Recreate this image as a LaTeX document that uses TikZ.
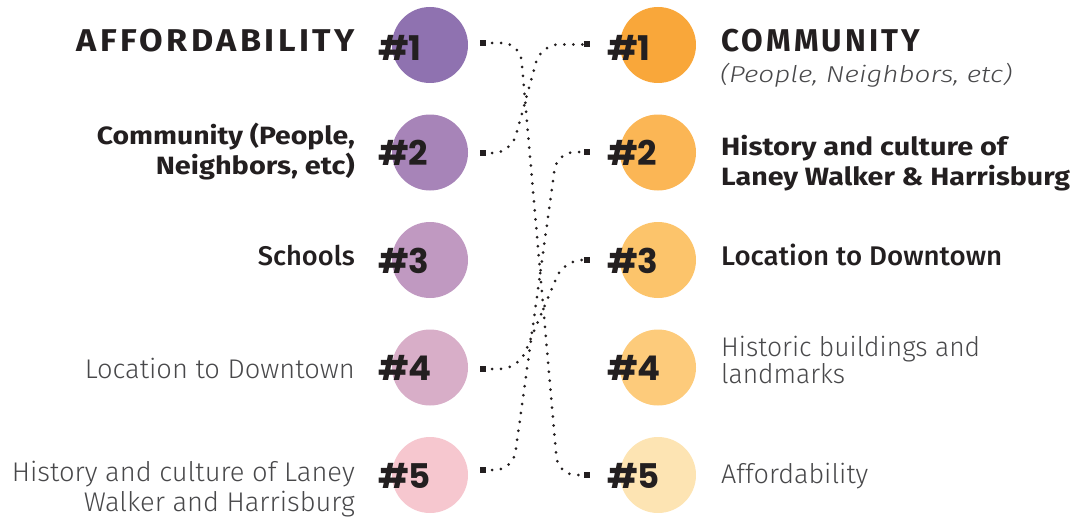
\documentclass[tikz,border=0pt]{standalone}
\usepackage{fontspec}
\setmainfont{Fira Sans}
\newfontfamily\lightf{Fira Sans Light}[ItalicFont=Fira Sans Light Italic]
\newfontfamily\medf{Fira Sans Medium}
\newfontfamily\boldf{Fira Sans Bold}
\newfontfamily\capsf{Fira Sans Bold}[LetterSpace=10]
\newfontfamily\numf{Poppins Bold}
\newcommand\fitw[2]{\resizebox{#1}{\height}{#2}}
\definecolor{ink}{HTML}{231F20}
\definecolor{greytxt}{HTML}{48484A}
\definecolor{lA}{HTML}{8F72B0}
\definecolor{lB}{HTML}{A784B8}
\definecolor{lC}{HTML}{C099C1}
\definecolor{lD}{HTML}{D8AEC8}
\definecolor{lE}{HTML}{F6C7CF}
\definecolor{rA}{HTML}{F9A73A}
\definecolor{rB}{HTML}{FBB655}
\definecolor{rC}{HTML}{FCC46B}
\definecolor{rD}{HTML}{FDCB7B}
\definecolor{rE}{HTML}{FDE4B3}
\tikzset{
  disc/.style={circle, minimum size=76pt, inner sep=0pt, draw=none},
  numlbl/.style={inner sep=0pt, anchor=base west, text=ink, font=\numf\fontsize{34}{34}\selectfont},
  endsq/.style={rectangle, fill=ink, minimum size=6pt, inner sep=0pt},
  dotline/.style={draw=ink, line width=3pt, line cap=round, dash pattern=on 0pt off 9pt, rounded corners=18pt},
  ltxt/.style={inner sep=0pt, anchor=base east, align=right},
  rtxt/.style={inner sep=0pt, anchor=base west, align=left},
  headf/.style={text=ink, font=\capsf\fontsize{31.5}{31.5}\selectfont},
  boldtxt/.style={text=ink, font=\boldf\fontsize{25}{30}\selectfont},
  medtxt/.style={text=ink, font=\medf\fontsize{27}{30}\selectfont},
  lighttxt/.style={text=greytxt, font=\lightf\fontsize{27}{30}\selectfont}
}
\begin{document}
\begin{tikzpicture}[x=1pt, y=-1pt]
\useasboundingbox (0,0) rectangle (1074,519);
% discs
\node[disc, fill=lA] (dl1) at (430,45) {};
\node[disc, fill=lB] (dl2) at (430,152.5) {};
\node[disc, fill=lC] (dl3) at (430,260) {};
\node[disc, fill=lD] (dl4) at (430,367.5) {};
\node[disc, fill=lE] (dl5) at (430,475) {};
\node[disc, fill=rA] (dr1) at (658,45) {};
\node[disc, fill=rB] (dr2) at (658,152.5) {};
\node[disc, fill=rC] (dr3) at (658,260) {};
\node[disc, fill=rD] (dr4) at (658,367.5) {};
\node[disc, fill=rE] (dr5) at (658,475) {};
% numbers
\node[numlbl] (nl1) at (378,61) {\#1};
\node[numlbl] (nl2) at (378,165) {\#2};
\node[numlbl] (nl3) at (378,273) {\#3};
\node[numlbl] (nl4) at (378,380) {\#4};
\node[numlbl] (nl5) at (378,488) {\#5};
\node[numlbl] (nr1) at (607,61) {\#1};
\node[numlbl] (nr2) at (607,165) {\#2};
\node[numlbl] (nr3) at (607,273) {\#3};
\node[numlbl] (nr4) at (607,380) {\#4};
\node[numlbl] (nr5) at (607,488) {\#5};
% bends
\coordinate (k1a) at (520,43);
\coordinate (k1b) at (558,475);
\coordinate (k2a) at (511,153);
\coordinate (k2b) at (541,44.5);
\coordinate (k4a) at (518,369);
\coordinate (k4b) at (564,260);
\coordinate (k5a) at (513,470);
\coordinate (k5b) at (557,152);
% connectors
\node[endsq] (sl1) at (483,43) {};
\node[endsq] (sl2) at (483,153) {};
\node[endsq] (sl4) at (483,369) {};
\node[endsq] (sl5) at (483,470) {};
\node[endsq] (sr1) at (587,44.5) {};
\node[endsq] (sr2) at (587,152) {};
\node[endsq] (sr3) at (587,260) {};
\node[endsq] (sr5) at (587,475) {};
\draw[dotline] (sl1.center) -- (k1a) -- (k1b) -- (sr5.center);
\draw[dotline] (sl2.center) -- (k2a) -- (k2b) -- (sr1.center);
\draw[dotline] (sl4.center) -- (k4a) -- (k4b) -- (sr3.center);
\draw[dotline] (sl5.center) -- (k5a) -- (k5b) -- (sr2.center);
% left texts
\node[ltxt, headf] (tl1) at (355,52) {\fitw{278pt}{AFFORDABILITY}};
\node[ltxt, boldtxt] (tl2) at (355,174) {\fitw{258pt}{Community (People,}\\\fitw{199pt}{Neighbors, etc)}};
\node[ltxt, medtxt] (tl3) at (355,265) {\fitw{97pt}{Schools}};
\node[ltxt, lighttxt] (tl4) at (355,378) {\fitw{270pt}{Location to Downtown}};
\node[ltxt, lighttxt] (tl5) at (355,511) {\fitw{343pt}{History and culture of Laney}\\\fitw{271pt}{Walker and Harrisburg}};
% right texts
\node[rtxt, headf] (tr1) at (721,52) {\fitw{199pt}{COMMUNITY}};
\node[rtxt, lighttxt, font=\lightf\itshape\fontsize{23}{26}\selectfont] (tr1b) at (720,83) {\fitw{292pt}{(People, Neighbors, etc)}};
\node[rtxt, boldtxt] (tr2) at (721,185) {\fitw{286pt}{History and culture of}\\\fitw{349pt}{Laney Walker \& Harrisburg}};
\node[rtxt, medtxt] (tr3) at (721,265) {\fitw{281pt}{Location to Downtown}};
\node[rtxt, lighttxt, font=\lightf\fontsize{27}{27}\selectfont] (tr4) at (721,383) {\fitw{259pt}{Historic buildings and}\\\fitw{124pt}{landmarks}};
\node[rtxt, lighttxt] (tr5) at (721,483) {\fitw{147pt}{Affordability}};
\end{tikzpicture}
\end{document}
